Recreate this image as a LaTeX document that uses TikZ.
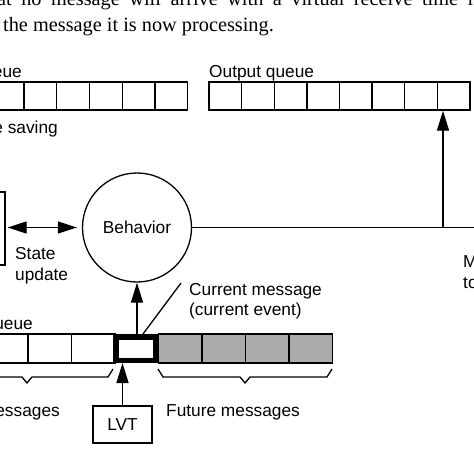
\documentclass[tikz,border=0pt]{standalone}
\usepackage{fontspec}
\setmainfont{Liberation Serif}
\setsansfont{Liberation Sans}
\usetikzlibrary{arrows.meta}

\begin{document}
\begin{tikzpicture}[x=1pt,y=-1pt]

\tikzset{cell/.style = {draw, line width=1.3pt, minimum width=32.7pt, minimum height=28pt, inner sep=0pt}}
\tikzset{qcell/.style = {draw, line width=1.3pt, minimum width=43.5pt, minimum height=29pt, inner sep=0pt}}
\tikzset{arr/.style = {line width=1.3pt, -{Triangle[length=20pt,width=12pt]}}}
\tikzset{lbl/.style = {font=\sffamily\fontsize{17.3}{20.5}\selectfont, inner sep=0pt}}
\useasboundingbox (0,0) rectangle (474,474);

%text above the figure
\node[anchor=base west, inner sep=0pt, font=\fontsize{20.3}{26}\selectfont] (line1) at (-3,5)
  {\makebox[476pt][s]{at no message will arrive with a virtual receive time l}};
\node[anchor=base west, inner sep=0pt, font=\fontsize{20.3}{26}\selectfont] (line2) at (3,31)
  {the message it is now processing.};

%queues at the top
\foreach \i in {0,...,5}
  \node[cell] (in\i) at (-9+32.8*\i+16.4,96) {};
\foreach \i in {0,...,7}
  \node[cell] (out\i) at (209+32.6*\i+16.3,96) {};
\node[lbl, anchor=base east] (inlbl) at (22,77) {queue};
\node[lbl, anchor=base west] (outlbl) at (209,77) {Output queue};
\node[lbl, anchor=base east] (savelbl) at (58,133) {State saving};

%behavior and state
\node[draw, line width=1.3pt, minimum width=30pt, minimum height=73pt] (statebox) at (-10,228.5) {};
\node[lbl, draw, circle, line width=1.3pt, minimum size=109pt] (beh) at (137,227.5) {Behavior};
\draw[line width=1.3pt, {Triangle[length=19pt,width=12pt]}-{Triangle[length=19pt,width=12pt]},
  shorten <=2pt, shorten >=5pt] (statebox.east |- beh) -- (beh.west);
\node[lbl, anchor=north west, align=left] (updlbl) at (15,247.5) {State\\update};

%messages sent out
\coordinate (junc) at (443,227.5);
\coordinate (rightend) at (480,227.5);
\draw[line width=1.3pt] (beh.east) -- (rightend);
\draw[arr] (junc) -- (out7.south -| junc);
\node[lbl, anchor=north west, align=left] (sendlbl) at (463,255.5) {M\\to};

%input queue at the bottom
\foreach \i in {0,...,2}
  \node[qcell] (past\i) at (-15.5+43.5*\i+21.75,348.5) {};
\foreach \i in {0,...,3}
  \node[qcell, fill=black!33] (fut\i) at (158.5+43.5*\i+21.75,348.5) {};
\node[draw, line width=5.5pt, fill=white, minimum width=40pt, minimum height=23.5pt, inner sep=0pt] (cur) at (136,348.5) {};
\node[lbl, anchor=base east] (qlbl) at (33,329) {queue};

\draw[arr] (beh.south |- cur.north) -- (beh.south);
\coordinate (ptr) at (181,283);
\draw[line width=1.3pt] ([xshift=7pt]cur.north) -- (ptr);
\node[lbl, anchor=north west, align=left] (curlbl) at (189,283) {Current message\\(current event)};

%braces
\draw[line width=1.3pt] (113,369) -- (108,377) -- (32,377) -- (27,383) -- (22,377) -- (-20,377);
\draw[line width=1.3pt] (158,369) -- (163,377) -- (240,377) -- (245,383) -- (250,377) -- (327,377) -- (332,369);
\node[lbl, anchor=base east] (pastlbl) at (60,416) {messages};
\node[lbl, anchor=base west] (futlbl) at (166,416) {Future messages};

%local virtual time
\node[lbl, draw, line width=1.3pt, minimum width=59pt, minimum height=37pt] (lvt) at (122.5,424.5) {LVT};
\draw[arr] (lvt.north) -- (lvt.north |- cur.south);

\end{tikzpicture}
\end{document}
